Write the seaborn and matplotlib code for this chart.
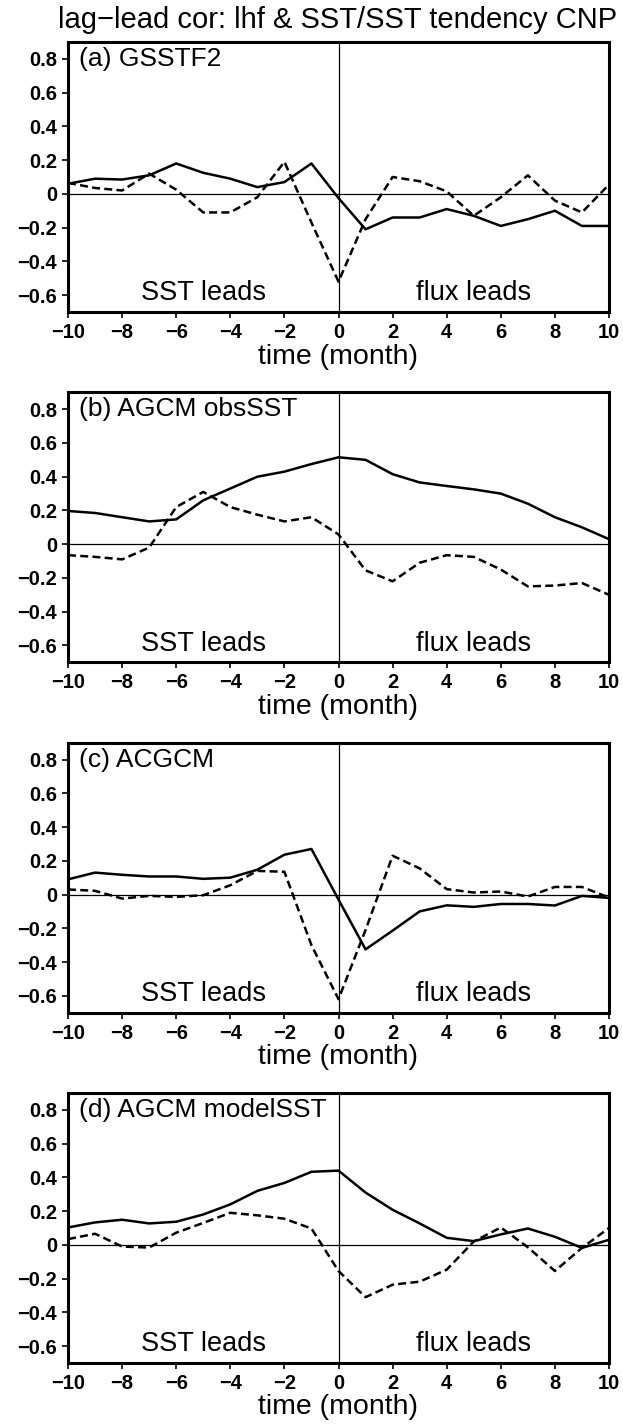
import matplotlib
matplotlib.use("Agg")
import matplotlib.pyplot as plt
import numpy as np
import pandas as pd
import seaborn as sns

sns.set_style("ticks")
plt.rcParams["font.family"] = ["Liberation Sans", "DejaVu Sans"]
plt.rcParams["text.color"] = "black"
plt.rcParams["axes.labelcolor"] = "black"
plt.rcParams["xtick.color"] = "black"
plt.rcParams["ytick.color"] = "black"

lags = list(range(-10, 11))

# (a) GSSTF2
a_sst = [0.06, 0.09, 0.085, 0.11, 0.18, 0.125, 0.09, 0.04, 0.07, 0.18, -0.025,
         -0.21, -0.14, -0.14, -0.09, -0.13, -0.19, -0.15, -0.10, -0.19, -0.19]
a_tend = [0.065, 0.035, 0.02, 0.12, 0.025, -0.11, -0.11, -0.02, 0.19, -0.17, -0.52,
          -0.15, 0.10, 0.075, 0.015, -0.13, -0.02, 0.11, -0.04, -0.11, 0.055]
# (b) AGCM obsSST
b_sst = [0.197, 0.185, 0.16, 0.135, 0.147, 0.26, 0.33, 0.40, 0.43, 0.475, 0.515,
         0.50, 0.415, 0.366, 0.345, 0.325, 0.30, 0.24, 0.16, 0.10, 0.03]
b_tend = [-0.065, -0.075, -0.09, -0.02, 0.22, 0.31, 0.22, 0.175, 0.135, 0.16, 0.058,
          -0.155, -0.22, -0.11, -0.065, -0.075, -0.15, -0.25, -0.245, -0.23, -0.30]
# (c) ACGCM
c_sst = [0.09, 0.13, 0.117, 0.107, 0.107, 0.093, 0.10, 0.147, 0.236, 0.27, -0.03,
         -0.325, -0.214, -0.10, -0.064, -0.073, -0.056, -0.056, -0.065, -0.008, -0.02]
c_tend = [0.03, 0.022, -0.024, -0.008, -0.014, -0.004, 0.055, 0.14, 0.135, -0.30, -0.62,
          -0.21, 0.23, 0.155, 0.032, 0.012, 0.018, -0.012, 0.045, 0.045, -0.018]
# (d) AGCM modelSST
d_sst = [0.103, 0.133, 0.149, 0.127, 0.137, 0.18, 0.24, 0.32, 0.367, 0.433, 0.44,
         0.31, 0.208, 0.127, 0.042, 0.022, 0.062, 0.097, 0.048, -0.018, 0.03]
d_tend = [0.034, 0.066, -0.01, -0.016, 0.072, 0.13, 0.19, 0.175, 0.155, 0.097, -0.155,
          -0.31, -0.236, -0.218, -0.147, 0.02, 0.103, -0.014, -0.155, -0.018, 0.10]

panels = [
    ("(a) GSSTF2", a_sst, a_tend),
    ("(b) AGCM obsSST", b_sst, b_tend),
    ("(c) ACGCM", c_sst, c_tend),
    ("(d) AGCM modelSST", d_sst, d_tend),
]

xticks = list(range(-10, 11, 2))
yticks = [-0.6, -0.4, -0.2, 0, 0.2, 0.4, 0.6, 0.8]


def fmt(v):
    s = "0" if abs(v) < 1e-9 else f"{abs(v):g}"
    return ("\u2212" + s) if v < 0 else s


W, H = 623, 1424
fig = plt.figure(figsize=(W / 100, H / 100), dpi=100)

for i, (label, sst, tend) in enumerate(panels):
    top_px = 42 + 350.33 * i
    ax = fig.add_axes([68 / W, 1 - (top_px + 270) / H, 541 / W, 270 / H])
    df = pd.DataFrame({"lag": lags, "sst": sst, "tend": tend})
    sns.lineplot(data=df, x="lag", y="sst", ax=ax, color="black", lw=1.8)
    sns.lineplot(data=df, x="lag", y="tend", ax=ax, color="black", lw=1.8,
                 linestyle=(0, (3.2, 1.7)))
    ax.axhline(0, color="black", lw=0.9)
    ax.axvline(0, color="black", lw=0.9)
    ax.set_xlim(-10, 10)
    ax.set_ylim(-0.7, 0.9)
    ax.set_xticks(xticks)
    ax.set_xticklabels([fmt(v) for v in xticks], fontweight="bold")
    ax.set_yticks(yticks)
    ax.set_yticklabels([fmt(v) for v in yticks], fontweight="bold")
    ax.tick_params(labelsize=14.5, length=4, width=1.2, color="black", pad=4)
    for sp in ax.spines.values():
        sp.set_visible(True)
        sp.set_color("black")
        sp.set_linewidth(2.2)
    ax.set_xlabel("time (month)", fontsize=20.5, labelpad=1)
    ax.set_ylabel("")
    ax.text(-9.6, 0.8, label, fontsize=19, va="center", ha="left")
    ax.text(-5, -0.59, "SST leads", fontsize=19.5, va="center", ha="center")
    ax.text(5, -0.59, "flux leads", fontsize=19.5, va="center", ha="center")

fig.text(337.5 / W, 1 - 28 / H, "lag\u2212lead cor: lhf & SST/SST tendency CNP",
         fontsize=21, ha="center", va="baseline")

fig.savefig("out.png", dpi=100)
